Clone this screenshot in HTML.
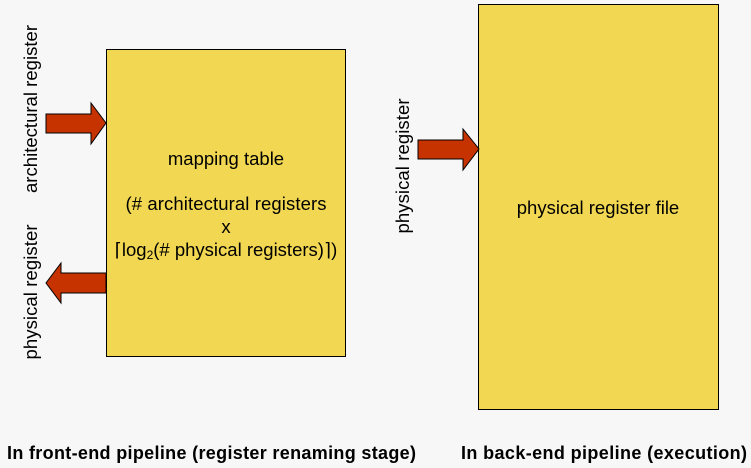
<!DOCTYPE html>
<html><head><style>
body{margin:0;background:#f7f7f7;}
svg{display:block;font-family:"Liberation Sans",Arial,sans-serif;}
</style></head><body>
<svg width="751" height="468" viewBox="0 0 751 468">
<rect x="0" y="0" width="751" height="468" fill="#f7f7f7"/>
<rect x="106.5" y="49.5" width="239" height="307" fill="#f2d852" stroke="#000" stroke-width="1"/>
<rect x="478.5" y="4.5" width="240" height="405" fill="#f2d852" stroke="#000" stroke-width="1"/>
<polygon points="46,114 91,114 91,103 106,123 91,144 91,133 46,133" fill="#c63300" stroke="#000" stroke-width="1"/>
<polygon points="106,273 61,273 61,263 46,283 61,303 61,293 106,293" fill="#c63300" stroke="#000" stroke-width="1"/>
<polygon points="418,140 463,140 463,129 479,149 463,170 463,159 418,159" fill="#c63300" stroke="#000" stroke-width="1"/>
<g font-size="18.5" fill="#000" text-anchor="middle">
<text transform="translate(37,109) rotate(-90)" textLength="168">architectural register</text>
<text transform="translate(37,292) rotate(-90)" textLength="135">physical register</text>
<text transform="translate(409,166) rotate(-90)" textLength="135">physical register</text>
<text x="226" y="165">mapping table</text>
<text x="226" y="210" textLength="201">(# architectural registers</text>
<text x="226" y="233">x</text>
<text x="226" y="256">⌈log<tspan font-size="12" dy="3">2</tspan><tspan dy="-3">(# physical registers)⌉)</tspan></text>
<text x="598" y="214">physical register file</text>
</g>
<g font-size="18" font-weight="bold" fill="#000">
<text x="7" y="459" textLength="409">In front-end pipeline (register renaming stage)</text>
<text x="461" y="459" textLength="286">In back-end pipeline (execution)</text>
</g>
</svg>
</body></html>
